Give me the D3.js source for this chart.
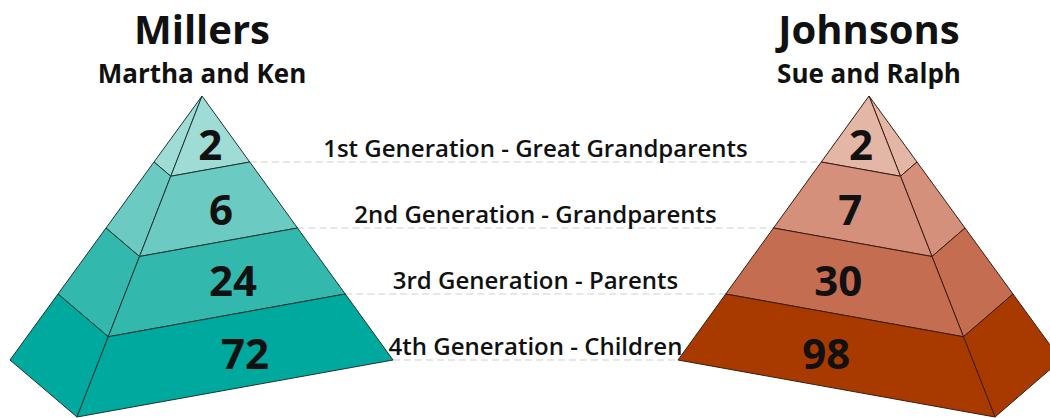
<!DOCTYPE html>
<html lang="en">
  <head>
    <meta charset="utf-8">
    <title>Millers vs Johnsons</title>
    <script type="text/javascript" src="https://cdn.jsdelivr.net/npm/d3@7"></script>
    <style>
      body { margin: 0; background: #fff; }
      svg { display: block; }
      text { font-family: "Open Sans", sans-serif; fill: #111; }
    </style>
  </head>
  <body>
    <script type="text/javascript">

      var w = 1050;
      var h = 418;

      // data
      var generations = ["1st Generation - Great Grandparents",
                         "2nd Generation - Grandparents",
                         "3rd Generation - Parents",
                         "4th Generation - Children"];
      var millersCounts = [2, 6, 24, 72];
      var johnsonsCounts = [2, 7, 30, 98];
      var families = ["Millers", "Johnsons"];
      var couples = ["Martha and Ken", "Sue and Ralph"];
      var millersColors = ["#9fdcd6", "#6bcac2", "#33b8ad", "#00a99d"];
      var johnsonsColors = ["#e3b6a6", "#d4907a", "#c56d50", "#a83a00"];

      // pyramid geometry: apex, outer back corner, near corner, front corner
      var pyramids = [
        { name: families[0], couple: couples[0], counts: millersCounts, colors: millersColors,
          apex: [202, 96], back: [10, 360], near: [77, 417], front: [393, 360], stroke: "#1c3533" },
        { name: families[1], couple: couples[1], counts: johnsonsCounts, colors: johnsonsColors,
          apex: [869, 96], back: [1061, 360], near: [995, 417], front: [678, 360], stroke: "#3a1c10" }
      ];

      var level = d3.scaleLinear()
                    .domain([0, generations.length])
                    .range([0, 1]);

      var svg = d3.select("body")
                  .append("svg")
                  .attr("width", w)
                  .attr("height", h);

      function along(p, corner, t) {
        return d3.interpolateArray(p.apex, corner)(t);
      }

      // dashed guide lines
      var left = pyramids[0], right = pyramids[1];
      svg.selectAll("line.guide")
         .data(generations)
         .enter()
         .append("line")
         .attr("class", "guide")
         .attr("x1", function(d, i) { return along(left, left.front, level(i + 1))[0]; })
         .attr("x2", function(d, i) { return along(right, right.front, level(i + 1))[0]; })
         .attr("y1", function(d, i) { return along(left, left.front, level(i + 1))[1]; })
         .attr("y2", function(d, i) { return along(left, left.front, level(i + 1))[1]; })
         .attr("stroke", "#cfcfcf")
         .attr("stroke-width", 1)
         .attr("stroke-dasharray", "7,4");

      // generation labels
      var midX = (left.apex[0] + right.apex[0]) / 2;
      svg.selectAll("text.gen")
         .data(generations)
         .enter()
         .append("text")
         .attr("class", "gen")
         .attr("x", midX)
         .attr("y", function(d, i) { return along(left, left.front, level(i + 1))[1] - 5; })
         .attr("text-anchor", "middle")
         .attr("font-size", "24px")
         .attr("font-weight", 600)
         .text(function(d) { return d; });

      pyramids.forEach(function(p) {
        var g = svg.append("g");
        var layers = p.counts.map(function(c, i) {
          var t0 = level(i), t1 = level(i + 1);
          var front = [along(p, p.near, t0), along(p, p.front, t0), along(p, p.front, t1), along(p, p.near, t1)];
          var side = [along(p, p.back, t0), along(p, p.near, t0), along(p, p.near, t1), along(p, p.back, t1)];
          return { count: c, color: p.colors[i], front: front, side: side };
        });

        g.selectAll("path.side")
         .data(layers)
         .enter()
         .append("path")
         .attr("d", function(d) { return "M" + d.side.join("L") + "Z"; })
         .attr("fill", function(d) { return d.color; })
         .attr("stroke", p.stroke)
         .attr("stroke-width", 1)
         .attr("stroke-linejoin", "round");

        g.selectAll("path.front")
         .data(layers)
         .enter()
         .append("path")
         .attr("d", function(d) { return "M" + d.front.join("L") + "Z"; })
         .attr("fill", function(d) { return d.color; })
         .attr("stroke", p.stroke)
         .attr("stroke-width", 1)
         .attr("stroke-linejoin", "round");

        // numbers centred between ridge and front edge
        g.selectAll("text.count")
         .data(layers)
         .enter()
         .append("text")
         .attr("class", "count")
         .attr("x", function(d) {
           var y = d3.polygonCentroid(d.front)[1];
           var tr = (y - p.apex[1]) / (p.near[1] - p.apex[1]);
           var tf = (y - p.apex[1]) / (p.front[1] - p.apex[1]);
           return (along(p, p.near, tr)[0] + along(p, p.front, tf)[0]) / 2;
         })
         .attr("y", function(d) { return d3.polygonCentroid(d.front)[1]; })
         .attr("dy", "0.36em")
         .attr("text-anchor", "middle")
         .attr("font-size", "42px")
         .attr("font-weight", 700)
         .text(function(d) { return d.count; });

        svg.append("text")
           .attr("x", p.apex[0])
           .attr("y", 44)
           .attr("text-anchor", "middle")
           .attr("font-size", "40px")
           .attr("font-weight", 700)
           .text(p.name);

        svg.append("text")
           .attr("x", p.apex[0])
           .attr("y", 83)
           .attr("text-anchor", "middle")
           .attr("font-size", "26px")
           .attr("font-weight", 700)
           .text(p.couple);
      });

    </script>
  </body>
</html>
